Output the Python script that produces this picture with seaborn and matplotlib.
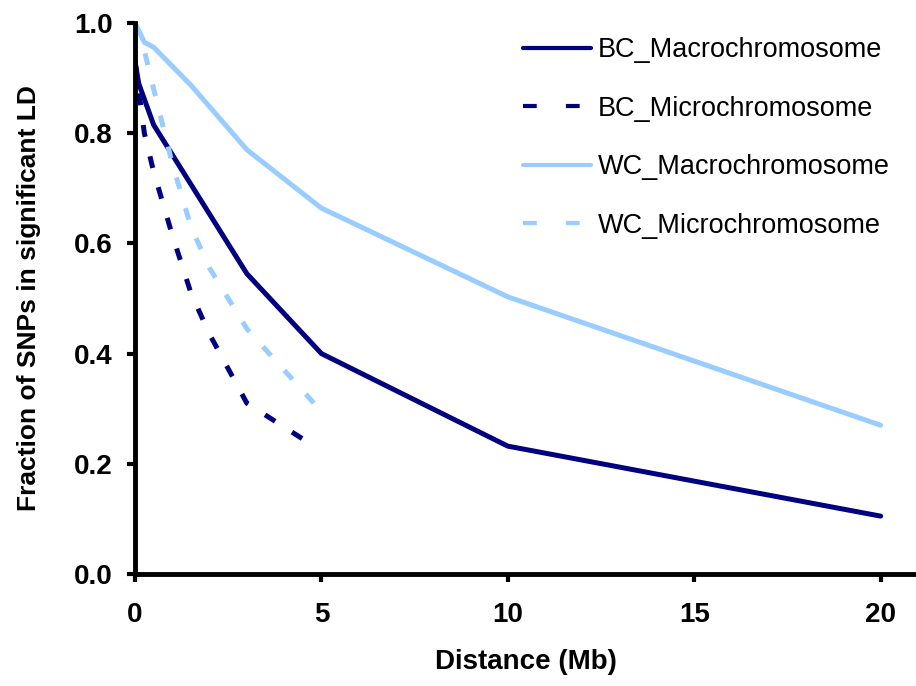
import pandas as pd
import matplotlib
matplotlib.use('Agg')
import matplotlib.pyplot as plt
import seaborn as sns

# Values
bc_macro_x = [0, 0.1, 0.5, 3, 5, 10, 20]
bc_macro_y = [0.93, 0.89, 0.815, 0.545, 0.40, 0.232, 0.105]

bc_micro_x = [0, 0.25, 0.5, 1, 1.5, 2, 3, 4.5]
bc_micro_y = [0.93, 0.80, 0.73, 0.615, 0.51, 0.435, 0.31, 0.245]

wc_macro_x = [0, 0.25, 0.5, 1.5, 3, 5, 10, 20]
wc_macro_y = [1.0, 0.965, 0.956, 0.887, 0.77, 0.664, 0.503, 0.27]

wc_micro_x = [0, 0.25, 0.5, 1, 1.5, 2, 3, 4.8]
wc_micro_y = [1.0, 0.95, 0.88, 0.745, 0.63, 0.555, 0.445, 0.31]

series = [
    ('BC_Macrochromosome', bc_macro_x, bc_macro_y, '#000080', '-'),
    ('BC_Microchromosome', bc_micro_x, bc_micro_y, '#000080', '--'),
    ('WC_Macrochromosome', wc_macro_x, wc_macro_y, '#99CCFF', '-'),
    ('WC_Microchromosome', wc_micro_x, wc_micro_y, '#99CCFF', '--'),
]

sns.set_style('white')
plt.rcParams['font.family'] = ['Liberation Sans', 'DejaVu Sans']
plt.rcParams['text.color'] = 'black'
plt.rcParams['axes.labelcolor'] = 'black'
plt.rcParams['xtick.color'] = 'black'
plt.rcParams['ytick.color'] = 'black'

fig = plt.figure(figsize=(9.16, 6.86), dpi=100)
ax = fig.add_axes([0.1474, 0.1633, 0.8526, 0.8032])

for name, xs, ys, color, ls in series:
    df = pd.DataFrame({'x': xs, 'y': ys})
    sns.lineplot(data=df, x='x', y='y', ax=ax, color=color, lw=3.6,
                 label=name, sort=False)
    if ls == '--':
        ax.lines[-1].set_dashes([2.4, 4.0])

ax.set_xlim(0, 20.95)
ax.set_ylim(0, 1.0)
ax.set_xticks([0, 5, 10, 15, 20])
ax.set_yticks([0, 0.2, 0.4, 0.6, 0.8, 1.0])
ax.set_yticklabels(['0.0', '0.2', '0.4', '0.6', '0.8', '1.0'])

for side in ['top', 'right']:
    ax.spines[side].set_visible(False)
for side in ['left', 'bottom']:
    ax.spines[side].set_color('black')
    ax.spines[side].set_linewidth(3.5)

ax.tick_params(axis='both', direction='out', length=6, width=3, color='black',
               labelsize=20, left=True, bottom=True)
ax.tick_params(axis='x', pad=14)
ax.tick_params(axis='y', pad=10)
for lab in ax.get_xticklabels() + ax.get_yticklabels():
    lab.set_fontweight('bold')

ax.set_xlabel('Distance (Mb)', fontsize=20, fontweight='bold', labelpad=15)
ax.set_ylabel('Fraction of SNPs in significant LD', fontsize=19, fontweight='bold', labelpad=24)

leg = ax.legend(loc='upper left', bbox_to_anchor=(0.571, 0.946),
                bbox_transform=fig.transFigure, frameon=False, borderpad=0,
                borderaxespad=0, fontsize=19.5, handlelength=2.5,
                handletextpad=0.27, labelspacing=1.2)
for h in leg.get_lines():
    h.set_linewidth(3)
leg.get_lines()[1].set_dashes([3.3, 7.0])
leg.get_lines()[3].set_dashes([3.3, 7.0])

fig.savefig('out.png', dpi=100)
